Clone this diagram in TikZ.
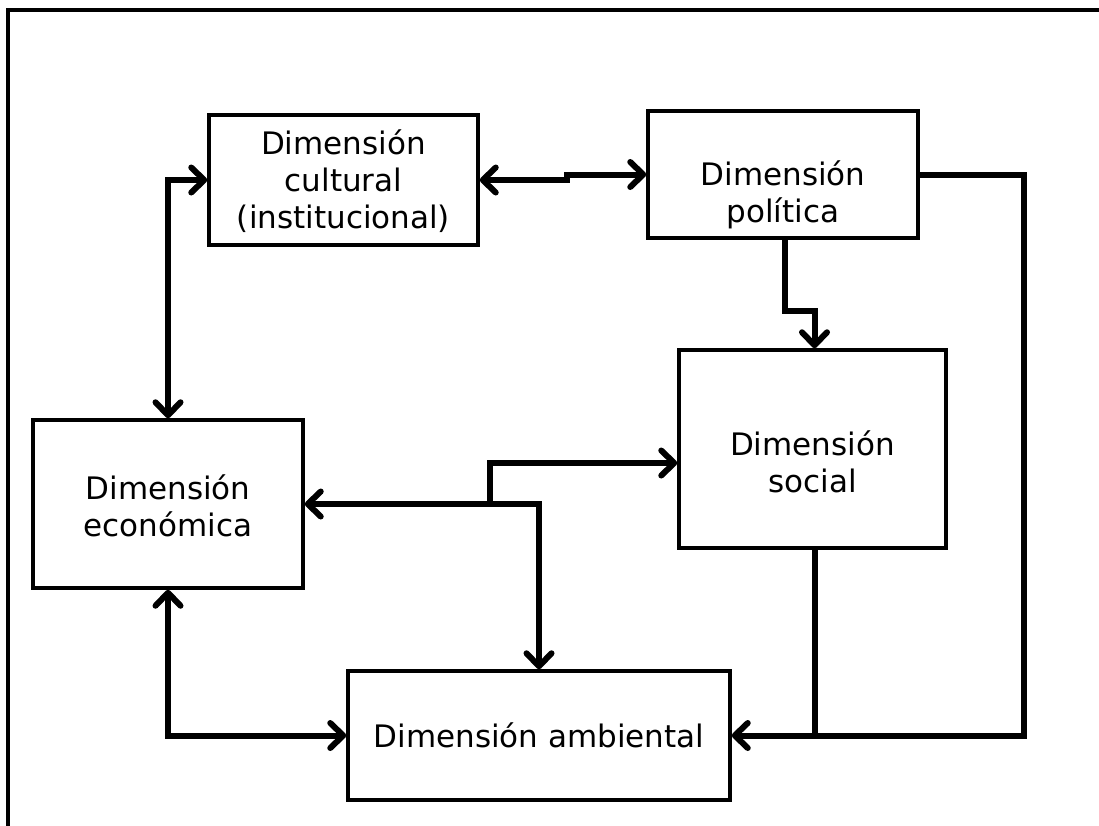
\documentclass[tikz,border=0pt]{standalone}
\usepackage{fontspec}
\setmainfont{DejaVu Sans}
\usetikzlibrary{arrows.meta,calc}
\begin{document}
\begin{tikzpicture}[x=1pt,y=-1pt,
  box/.style={draw,line width=3.5pt,rectangle,inner sep=0pt},
  lbl/.style={align=center,font=\fontsize{31}{37}\selectfont},
  conn/.style={line width=6pt,line join=miter},
  myarr/.tip={Straight Barb[length=13pt,width=25pt,round]}]
\useasboundingbox (0,0) rectangle (1099,825);
\begin{scope}
  \clip (0,0) rectangle (1099,825);
  \draw[line width=4.5pt] (8,1000) -- (8,10) -- (1200,10);
\end{scope}
% boxes
\node[box,minimum width=269pt,minimum height=130pt] (cul) at (343.5,180) {};
\node[box,minimum width=270pt,minimum height=127pt] (pol) at (783,174.5) {};
\node[box,minimum width=270pt,minimum height=168pt] (eco) at (168,504) {};
\node[box,minimum width=267pt,minimum height=198pt] (soc) at (812.5,449) {};
\node[box,minimum width=382pt,minimum height=129pt] (amb) at (539,735.5) {};
% labels
\node[lbl] at ($(cul.center)+(0,1)$) {Dimensión\\cultural\\(institucional)};
\node[lbl] at ($(pol.center)+(0,20)$) {Dimensión\\política};
\node[lbl] at ($(eco.center)+(0,2)$) {Dimensión\\económica};
\node[lbl] at ($(soc.center)+(0,13)$) {Dimensión\\social};
\node[lbl] at (amb.center) {Dimensión ambiental};
% connectors
\draw[conn,myarr-myarr] (cul.west) -| (eco.north);
\draw[conn,myarr-myarr] (cul.east) -- ++(87,0) |- (pol.west);
\draw[conn,-myarr] ([xshift=2pt]pol.south) -- ++(0,71) -| ([xshift=2pt]soc.north);
\draw[conn,-myarr] (pol.east) -- ++(104,0) |- (amb.east);
\draw[conn] ([xshift=2pt]soc.south) -- ([xshift=2pt]soc.south |- amb.east);
\draw[conn,myarr-myarr] (eco.east) -| (amb.north);
\coordinate (j) at (490,504);
\draw[conn,-myarr] (j) |- ($(soc.west)+(0,14)$);
\draw[conn,myarr-myarr] (eco.south) |- (amb.west);
\end{tikzpicture}
\end{document}
